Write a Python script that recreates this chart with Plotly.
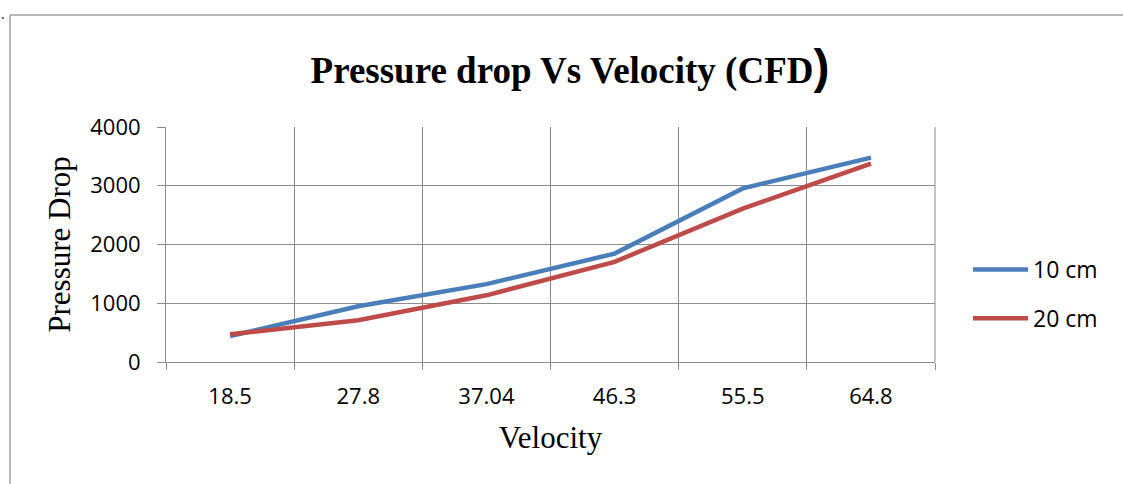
import plotly.graph_objects as go

velocity = ["18.5", "27.8", "37.04", "46.3", "55.5", "64.8"]
series_10cm = [440, 950, 1325, 1845, 2955, 3478]
series_20cm = [472, 710, 1135, 1705, 2612, 3375]
y_ticks = [0, 1000, 2000, 3000, 4000]

W, H = 1123, 484
L, R, T, B = 166, 935, 127, 362

def px_x(p):
    return (p - L) / (R - L)

def px_y(p):
    return (B - p) / (B - T)

fig = go.Figure()
fig.add_trace(go.Scatter(x=velocity, y=series_10cm, mode="lines", name="10 cm", legendgroup="a",
                         line=dict(color="#4a7ebb", width=4.5)))
fig.add_trace(go.Scatter(x=velocity, y=series_20cm, mode="lines", name="20 cm", legendgroup="b",
                         line=dict(color="#be4b48", width=4.5)))

grid = "#8c8c8c"
tickfont = dict(family="Open Sans, Lato, sans-serif", size=22, color="black")
fig.update_layout(
    width=W, height=H,
    margin=dict(l=L, r=W - R, t=T, b=H - B),
    paper_bgcolor="white", plot_bgcolor="white",
    showlegend=True,
    legend=dict(x=px_x(968), y=px_y(294), xanchor="left", yanchor="middle",
                font=dict(family="Open Sans, Lato, sans-serif", size=23, color="black"),
                tracegroupgap=16, itemwidth=55, bgcolor="rgba(0,0,0,0)"),
    title=dict(text="Pressure drop Vs Velocity (CFD<span style='font-size:48px;font-family:Liberation Sans'>)</span>",
               x=px_x(570), xref="paper", xanchor="center", y=1 - 70 / H, yanchor="middle",
               font=dict(family="Liberation Serif, Times New Roman, serif", size=37, color="black", weight="bold")),
    xaxis=dict(type="category", range=[-0.5, 5.5], tickson="boundaries", ticks="outside",
               ticklen=7, tickcolor=grid, showgrid=True, gridcolor=grid, gridwidth=1,
               showline=True, linecolor=grid, linewidth=1, mirror=False,
               ticklabelstandoff=15, tickfont=tickfont,
               title=dict(text="Velocity", standoff=16,
                          font=dict(family="Liberation Serif, Times New Roman, serif", size=31, color="black"))),
    yaxis=dict(range=[0, 4000], tickvals=y_ticks, ticks="outside", ticklen=8, tickcolor=grid,
               showgrid=True, gridcolor=grid, gridwidth=1, zeroline=False,
               showline=True, linecolor=grid, linewidth=1,
               ticklabelstandoff=12, tickfont=tickfont,
               title=dict(text="Pressure Drop", standoff=10,
                          font=dict(family="Liberation Serif, Times New Roman, serif", size=31, color="black"))),
)

# right border of plot area
fig.add_shape(type="line", xref="paper", yref="paper", x0=1, x1=1, y0=0, y1=1,
              line=dict(color=grid, width=1))
# outer frame lines
fig.add_shape(type="line", xref="paper", yref="paper", x0=px_x(10), x1=px_x(1123), y0=px_y(15), y1=px_y(15),
              line=dict(color="#a0a0a0", width=1.5))
fig.add_shape(type="line", xref="paper", yref="paper", x0=px_x(10), x1=px_x(10), y0=px_y(15), y1=px_y(484),
              line=dict(color="#a0a0a0", width=1.5))
fig.add_annotation(text=".", xref="paper", yref="paper", x=px_x(3), y=px_y(2), xanchor="center",
                   yanchor="top", showarrow=False, font=dict(size=14, color="black"))

fig.write_html("out.html")
